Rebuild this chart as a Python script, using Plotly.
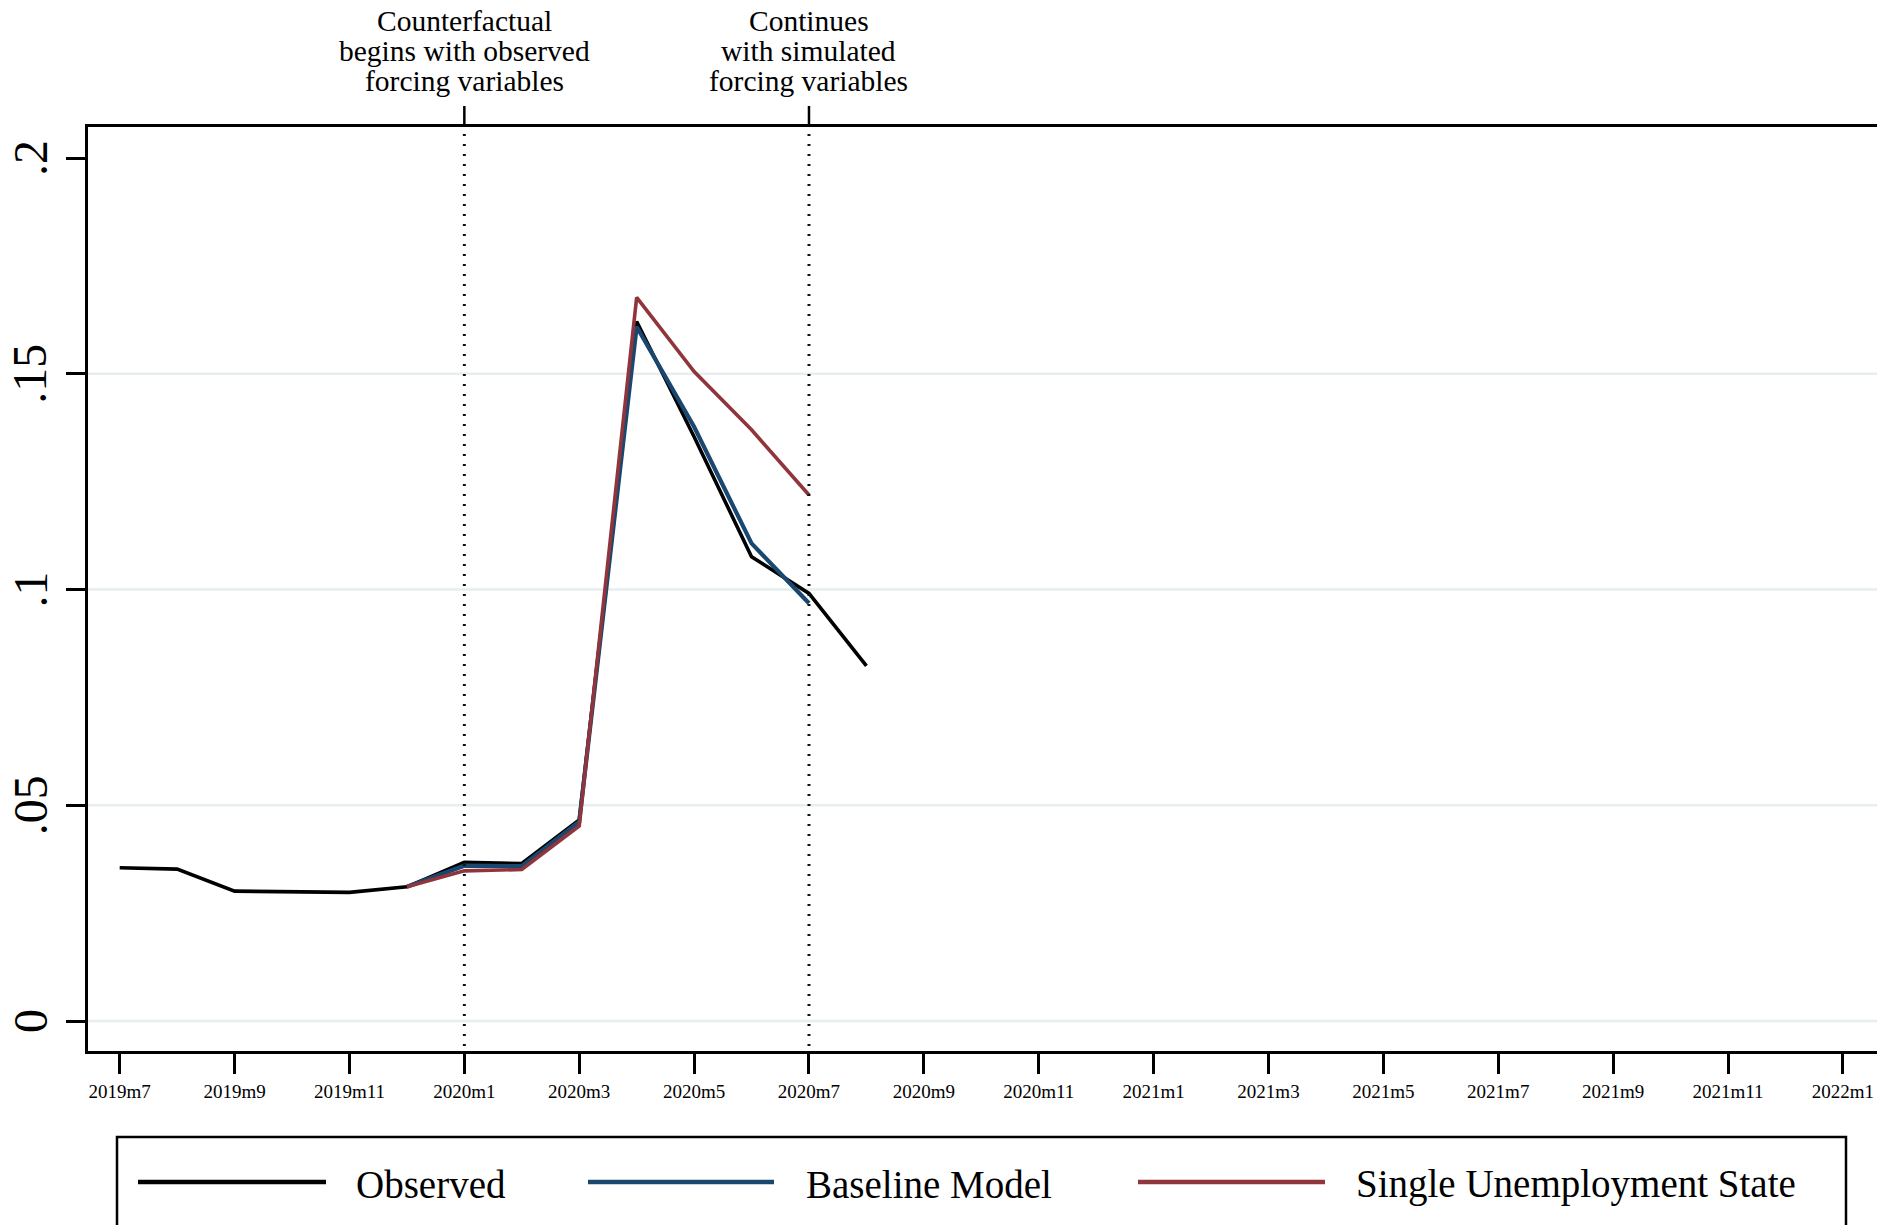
import plotly.graph_objects as go

# ---- data -------------------------------------------------------------
obs_months = ["2019m7", "2019m8", "2019m9", "2019m10", "2019m11", "2019m12",
              "2020m1", "2020m2", "2020m3", "2020m4", "2020m5", "2020m6",
              "2020m7", "2020m8"]
observed = [0.0355, 0.0352, 0.0301, 0.0300, 0.0298, 0.0311,
            0.0368, 0.0365, 0.0466, 0.1621, 0.1354, 0.1076,
            0.0991, 0.0823]

sim_months = ["2019m12", "2020m1", "2020m2", "2020m3", "2020m4",
              "2020m5", "2020m6", "2020m7"]
baseline = [0.0311, 0.0360, 0.0359, 0.0462, 0.1609, 0.1377, 0.1107, 0.0968]
single_state = [0.0311, 0.0348, 0.0351, 0.0452, 0.1677, 0.1505, 0.1370, 0.1219]

x_tick_labels = ["2019m7", "2019m9", "2019m11", "2020m1", "2020m3", "2020m5",
                 "2020m7", "2020m9", "2020m11", "2021m1", "2021m3", "2021m5",
                 "2021m7", "2021m9", "2021m11", "2022m1"]
y_tick_vals = [0, 0.05, 0.1, 0.15, 0.2]
y_tick_text = ["0", ".05", ".1", ".15", ".2"]
grid_vals = [0, 0.05, 0.1, 0.15]

event_months = ["2020m1", "2020m7"]
event_text = [["Counterfactual", "begins with observed", "forcing variables"],
              ["Continues", "with simulated", "forcing variables"]]

series_names = ["Observed", "Baseline Model", "Single Unemployment State"]
series_colors = ["#000000", "#1a476f", "#90353b"]


def month_index(label):
    """Months elapsed since 2019m7 for a Stata-style 'YYYYmM' label."""
    year, month = label.split("m")
    return (int(year) - 2019) * 12 + int(month) - 7


# ---- layout geometry (pixels) ------------------------------------------
W, H = 1877, 1225
L, R, T, B = 88, 1877, 127, 1051
PW, PH = R - L, B - T


def px_x(px):
    return (px - L) / PW


def px_y(py):
    return (B - py) / PH


FONT = "Liberation Serif"

fig = go.Figure()

series = [(obs_months, observed, 3.6),
          (sim_months, baseline, 4.2),
          (sim_months, single_state, 3.6)]
for (months, vals, w), name, color in zip(series, series_names, series_colors):
    fig.add_trace(go.Scatter(
        x=[month_index(m) for m in months], y=vals, mode="lines", name=name,
        line=dict(color=color, width=w), showlegend=False,
    ))

# light horizontal grid lines
for g in grid_vals:
    fig.add_shape(type="line", xref="paper", yref="y", x0=0, x1=1, y0=g, y1=g,
                  line=dict(color="#e6eef0", width=2.5), layer="below")

# event markers: dotted line inside the plot, solid tick above the frame
for m, lines in zip(event_months, event_text):
    xi = month_index(m)
    fig.add_shape(type="line", xref="x", yref="paper", x0=xi, x1=xi,
                  y0=px_y(1046), y1=px_y(131),
                  line=dict(color="#111111", width=3, dash="2px,8px"))
    fig.add_shape(type="line", xref="x", yref="paper", x0=xi, x1=xi,
                  y0=px_y(126), y1=px_y(106),
                  line=dict(color="black", width=2.5))
    for k, txt in enumerate(lines):
        fig.add_annotation(x=xi, xref="x", y=px_y(21 + 30 * k), yref="paper",
                           text=txt, showarrow=False, xanchor="center",
                           yanchor="middle",
                           font=dict(family=FONT, size=29.5, color="black"))

# y tick labels, rotated
for v, t in zip(y_tick_vals, y_tick_text):
    fig.add_annotation(x=px_x(30), xref="paper", y=v, yref="y", text=t,
                       textangle=-90, showarrow=False, xanchor="center",
                       yanchor="middle",
                       font=dict(family=FONT, size=48, color="black"))

# legend box drawn below the plot
fig.add_shape(type="rect", xref="paper", yref="paper",
              x0=px_x(117), x1=px_x(1846), y0=px_y(1137), y1=px_y(1260),
              line=dict(color="black", width=2.5), fillcolor="rgba(0,0,0,0)")
legend_pos = [(138, 326, 354), (588, 774, 804), (1138, 1325, 1354)]
for (lx0, lx1, tx), name, color in zip(legend_pos, series_names, series_colors):
    fig.add_shape(type="line", xref="paper", yref="paper",
                  x0=px_x(lx0), x1=px_x(lx1), y0=px_y(1182), y1=px_y(1182),
                  line=dict(color=color, width=4.6))
    fig.add_annotation(x=px_x(tx), xref="paper", y=px_y(1184), yref="paper",
                       text=name, showarrow=False, xanchor="left",
                       yanchor="middle",
                       font=dict(family=FONT, size=39, color="black"))

x_left = (L - 119.7) / 57.44
x_right = (R - 119.7) / 57.44
y_bottom = (1021 - B) / 4315
y_top = (1021 - T) / 4315

fig.update_layout(
    width=W, height=H,
    margin=dict(l=L, r=W - R, t=T, b=H - B, pad=0),
    paper_bgcolor="white", plot_bgcolor="white",
    font=dict(family=FONT, color="black"),
    xaxis=dict(
        range=[x_left, x_right], tickmode="array",
        tickvals=[month_index(t) for t in x_tick_labels],
        ticktext=x_tick_labels, tickfont=dict(family=FONT, size=19),
        ticks="outside", ticklen=20, tickwidth=2.5, tickcolor="black",
        showline=True, linecolor="black", linewidth=2.5, mirror=True,
        showgrid=False, zeroline=False, ticklabelstandoff=1,
    ),
    yaxis=dict(
        range=[y_bottom, y_top], tickmode="array", tickvals=y_tick_vals,
        showticklabels=False, ticks="outside", ticklen=19, tickwidth=2.5,
        tickcolor="black", showline=True, linecolor="black", linewidth=2.5,
        showgrid=False, zeroline=False,
    ),
)

fig.write_html("out.html")
